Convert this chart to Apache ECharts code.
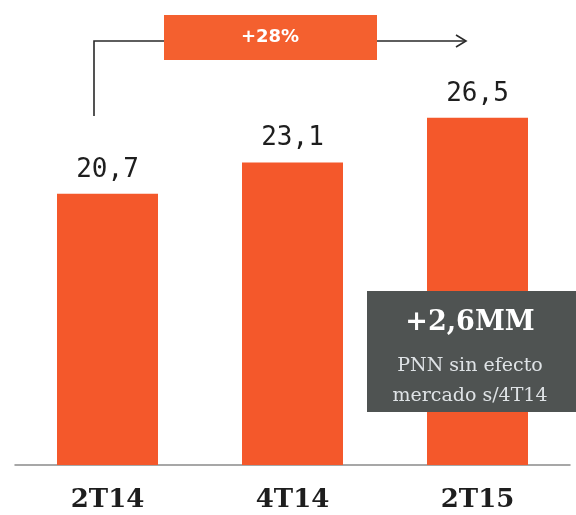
<!DOCTYPE html>
<html>
<head>
<meta charset="utf-8">
<script src="https://cdn.jsdelivr.net/npm/echarts@6/dist/echarts.min.js"></script>
<style>
  html, body { margin: 0; padding: 0; background: #ffffff; }
  #chart { width: 576px; height: 515px; }
</style>
</head>
<body>
<div id="chart"></div>
<script>
// Periods and net interest margin values (MM)
var periods = ['2T14', '4T14', '2T15'];
var values = [20.7, 23.1, 26.5];
var growthLabel = '+28%';
var boxTitle = '+2,6MM';
var boxLines = ['PNN sin efecto', 'mercado s/4T14'];

var orange = '#f4582b';

function fmt(v) {
  return v.toFixed(1).replace('.', ',');
}

var chart = echarts.init(document.getElementById('chart'));

chart.setOption({
  animation: false,
  backgroundColor: '#ffffff',
  grid: { left: 15, right: 6, top: 72, bottom: 50 },
  xAxis: {
    type: 'category',
    data: periods,
    axisLine: { show: true, lineStyle: { color: '#8a8a8a', width: 1.5 } },
    axisTick: { show: false },
    axisLabel: {
      margin: 22,
      fontFamily: 'DejaVu Serif',
      fontWeight: 'bold',
      fontSize: 26,
      color: '#1e1e1e'
    }
  },
  yAxis: {
    type: 'value',
    min: 0,
    max: 30,
    show: false,
    splitLine: { show: false }
  },
  series: [{
    type: 'bar',
    z: 2,
    data: values,
    barWidth: 101,
    itemStyle: { color: orange },
    label: {
      show: true,
      position: 'top',
      distance: 11,
      formatter: function (p) { return fmt(p.value); },
      fontFamily: '"DejaVu Sans Mono", monospace',
      fontSize: 26,
      color: '#1e1e1e'
    }
  }],
  graphic: {
    elements: [
      // growth arrow from the first bar to the last
      {
        type: 'polyline',
        z: 100,
        shape: { points: [[94, 116], [94, 41], [465, 41]] },
        style: { stroke: '#2a2a2a', lineWidth: 1.6, fill: null }
      },
      {
        type: 'polyline',
        z: 100,
        shape: { points: [[456, 35], [466, 41], [456, 47]] },
        style: { stroke: '#2a2a2a', lineWidth: 1.6, fill: null }
      },
      {
        type: 'rect',
        z: 100,
        shape: { x: 164, y: 15, width: 213, height: 45 },
        style: { fill: '#f4602f' }
      },
      {
        type: 'text',
        z: 101,
        x: 270, y: 37,
        style: {
          text: growthLabel,
          fill: '#ffffff',
          font: 'bold 18px "DejaVu Sans"',
          align: 'center',
          verticalAlign: 'middle'
        }
      },
      // info box over the last bar
      {
        type: 'rect',
        z: 100,
        shape: { x: 367, y: 291, width: 209, height: 121 },
        style: { fill: '#4f5352' }
      },
      {
        type: 'text',
        z: 101,
        x: 470, y: 323,
        style: {
          text: boxTitle,
          fill: '#ffffff',
          font: 'bold 27px "DejaVu Serif"',
          align: 'center',
          verticalAlign: 'middle'
        }
      },
      {
        type: 'text',
        z: 101,
        x: 470, y: 366,
        style: {
          text: boxLines[0],
          fill: '#dfe3e6',
          font: '19px "DejaVu Serif"',
          align: 'center',
          verticalAlign: 'middle'
        }
      },
      {
        type: 'text',
        z: 101,
        x: 470, y: 396,
        style: {
          text: boxLines[1],
          fill: '#dfe3e6',
          font: '19px "DejaVu Serif"',
          align: 'center',
          verticalAlign: 'middle'
        }
      }
    ]
  }
});
</script>
</body>
</html>
